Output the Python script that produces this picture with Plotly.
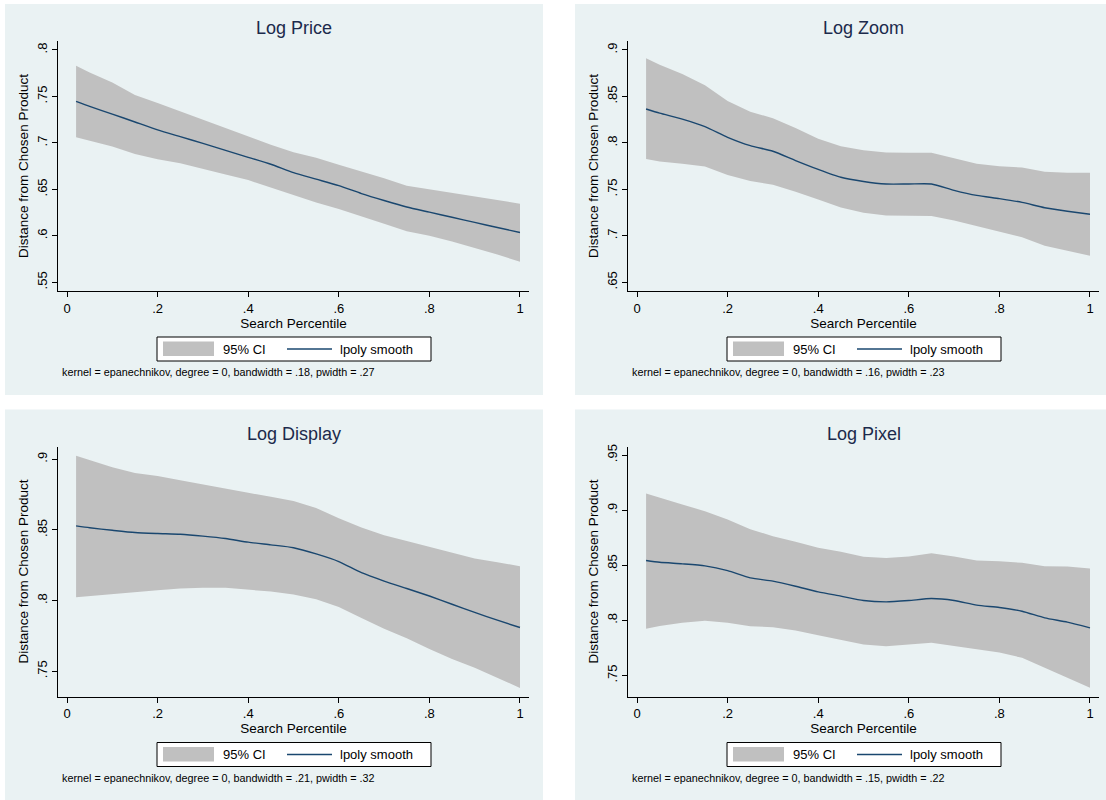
import plotly.graph_objects as go

# ---------------- data ----------------
x_grid = [0.02, 0.05, 0.10, 0.15, 0.20, 0.25, 0.30, 0.35, 0.40, 0.45, 0.50,
          0.55, 0.60, 0.65, 0.70, 0.75, 0.80, 0.85, 0.90, 0.95, 1.00]

price_fit = [.7446, .7393, .7310, .7225, .7140, .7067, .6995, .6920, .6845, .6770, .6680,
             .6610, .6540, .6455, .6380, .6310, .6255, .6200, .6145, .6090, .6036]
price_hi = [.7829, .7757, .7650, .7515, .7430, .7340, .7250, .7160, .7070, .6980, .6900,
            .6840, .6765, .6695, .6620, .6540, .6500, .6465, .6425, .6380, .6346]
price_lo = [.7061, .7021, .6960, .6880, .6825, .6780, .6720, .6660, .6600, .6520, .6440,
            .6360, .6290, .6210, .6130, .6050, .6000, .5940, .5870, .5800, .5721]

zoom_fit = [.8365, .8320, .8255, .8175, .8060, .7970, .7910, .7810, .7715, .7630, .7585,
            .7558, .7558, .7558, .7490, .7435, .7400, .7360, .7303, .7265, .7232]
zoom_hi = [.8910, .8840, .8740, .8620, .8450, .8335, .8265, .8160, .8045, .7965, .7920,
           .7898, .7895, .7895, .7835, .7775, .7750, .7735, .7690, .7680, .7679]
zoom_lo = [.7828, .7800, .7775, .7745, .7655, .7590, .7550, .7475, .7390, .7305, .7250,
           .7220, .7215, .7215, .7165, .7105, .7045, .6985, .6895, .6840, .6786]

display_fit = [.8528, .8515, .8497, .8481, .8474, .8469, .8456, .8439, .8413, .8394, .8374,
               .8330, .8276, .8197, .8138, .8085, .8032, .7974, .7916, .7861, .7809]
display_hi = [.9025, .8993, .8943, .8902, .8881, .8852, .8821, .8790, .8762, .8734, .8705,
              .8654, .8582, .8516, .8462, .8422, .8381, .8339, .8297, .8271, .8243]
display_lo = [.8024, .8033, .8046, .8060, .8072, .8085, .8090, .8090, .8078, .8064, .8043,
              .8010, .7954, .7876, .7800, .7734, .7657, .7587, .7524, .7453, .7382]

pixel_fit = [.8543, .8527, .8513, .8495, .8452, .8386, .8356, .8310, .8259, .8220, .8180,
             .8168, .8180, .8198, .8180, .8138, .8117, .8083, .8023, .7984, .7932]
pixel_hi = [.9152, .9112, .9051, .8991, .8915, .8827, .8764, .8713, .8658, .8622, .8577,
            .8567, .8580, .8610, .8580, .8543, .8537, .8522, .8492, .8489, .8471]
pixel_lo = [.7925, .7948, .7978, .7997, .7978, .7947, .7938, .7908, .7866, .7826, .7781,
            .7766, .7781, .7796, .7763, .7739, .7709, .7660, .7563, .7479, .7388]

titles = ["Log Price", "Log Zoom", "Log Display", "Log Pixel"]
notes = [
    "kernel = epanechnikov, degree = 0, bandwidth = .18, pwidth = .27",
    "kernel = epanechnikov, degree = 0, bandwidth = .16, pwidth = .23",
    "kernel = epanechnikov, degree = 0, bandwidth = .21, pwidth = .32",
    "kernel = epanechnikov, degree = 0, bandwidth = .15, pwidth = .22",
]
x_tickvals = [0, 0.2, 0.4, 0.6, 0.8, 1.0]
x_ticktext = ["0", ".2", ".4", ".6", ".8", "1"]
y_tickvals = [
    [.55, .60, .65, .70, .75, .80],
    [.65, .70, .75, .80, .85, .90],
    [.75, .80, .85, .90],
    [.75, .80, .85, .90, .95],
]
y_ticktext = [
    [".55", ".6", ".65", ".7", ".75", ".8"],
    [".65", ".7", ".75", ".8", ".85", ".9"],
    [".75", ".8", ".85", ".9"],
    [".75", ".8", ".85", ".9", ".95"],
]
y_ranges = [[.5407, .8096], [.6407, .9096], [.7321, .9090], [.7309, .9578]]
x_title = "Search Percentile"
y_title = "Distance from Chosen Product"
legend_labels = ["95% CI", "lpoly smooth"]

fits = [price_fit, zoom_fit, display_fit, pixel_fit]
his = [price_hi, zoom_hi, display_hi, pixel_hi]
los = [price_lo, zoom_lo, display_lo, pixel_lo]

# ---------------- styling ----------------
W, H = 1106, 800
PANEL_BG = "#eaf2f3"
BAND = "#c0c0c0"
NAVY = "#1a476f"
TITLE_C = "#1c2a4c"
FONT = "Liberation Sans, Arial, Helvetica, sans-serif"


def px(x):
    return x / W


def py(y):
    return 1 - y / H


# panel geometry (pixels): offsets of each panel
offsets = [(0, 0), (570, 0), (0, 405.5), (570, 405.5)]
PLOT_L, PLOT_R, PLOT_T, PLOT_B = 58, 529, 41, 291

fig = go.Figure()
shapes = []
annotations = []
layout_axes = {}

for i in range(4):
    s = "" if i == 0 else str(i + 1)
    dx, dy = offsets[i]
    xs = x_grid
    fig.add_trace(go.Scatter(
        x=xs + xs[::-1], y=his[i] + los[i][::-1],
        fill="toself", fillcolor=BAND, line=dict(width=0, color=BAND),
        mode="lines", showlegend=False, hoverinfo="skip",
        xaxis="x" + s, yaxis="y" + s, name=legend_labels[0]))
    fig.add_trace(go.Scatter(
        x=xs, y=fits[i], mode="lines",
        line=dict(color=NAVY, width=1.4, shape="spline", smoothing=0.6),
        showlegend=False, hoverinfo="skip",
        xaxis="x" + s, yaxis="y" + s, name=legend_labels[1]))

    layout_axes["xaxis" + s] = dict(
        domain=[px(PLOT_L + dx), px(PLOT_R + dx)], anchor="y" + s,
        range=[-0.0199, 1.0199], tickvals=x_tickvals, ticktext=x_ticktext,
        ticks="outside", ticklen=5, tickcolor="black", tickwidth=1,
        showline=True, linecolor="black", linewidth=1,
        showgrid=False, zeroline=False, automargin=False,
        tickfont=dict(size=13, color="black", family=FONT),
        title=dict(text=x_title, standoff=3,
                   font=dict(size=13.5, color="black", family=FONT)))
    layout_axes["yaxis" + s] = dict(
        domain=[py(PLOT_B + dy), py(PLOT_T + dy)], anchor="x" + s,
        range=y_ranges[i], tickvals=y_tickvals[i], ticktext=y_ticktext[i],
        tickangle=-90, ticks="outside", ticklen=5, tickcolor="black", tickwidth=1,
        showline=True, linecolor="black", linewidth=1,
        showgrid=True, gridcolor=PANEL_BG, gridwidth=1,
        zeroline=False, automargin=False,
        tickfont=dict(size=13, color="black", family=FONT),
        title=dict(text=y_title, standoff=3,
                   font=dict(size=13.5, color="black", family=FONT)))

    # panel background
    bg_left = 5 + dx
    bg_right = 543 + dx if dx == 0 else W
    bg_top = 4 + dy
    bg_bot = 395 + dy if dy == 0 else H
    shapes.append(dict(type="rect", xref="paper", yref="paper",
                       x0=px(bg_left), x1=px(bg_right), y0=py(bg_bot), y1=py(bg_top),
                       fillcolor=PANEL_BG, line=dict(width=0), layer="below"))

    # title
    annotations.append(dict(xref="paper", yref="paper",
                            x=px((PLOT_L + PLOT_R) / 2 + dx), y=py(28 + dy),
                            text=titles[i], showarrow=False,
                            xanchor="center", yanchor="middle",
                            font=dict(size=18, color=TITLE_C, family=FONT)))

    # legend box
    lg_l, lg_r, lg_t, lg_b = 157 + dx, 431 + dx, 337 + dy, 361 + dy
    shapes.append(dict(type="rect", xref="paper", yref="paper",
                       x0=px(lg_l), x1=px(lg_r), y0=py(lg_b), y1=py(lg_t),
                       fillcolor="white", line=dict(color="black", width=1), layer="above"))
    shapes.append(dict(type="rect", xref="paper", yref="paper",
                       x0=px(163 + dx), x1=px(214 + dx), y0=py(356 + dy), y1=py(341.5 + dy),
                       fillcolor=BAND, line=dict(width=0), layer="above"))
    shapes.append(dict(type="line", xref="paper", yref="paper",
                       x0=px(287 + dx), x1=px(332 + dx), y0=py(349 + dy), y1=py(349 + dy),
                       line=dict(color=NAVY, width=1.3), layer="above"))
    annotations.append(dict(xref="paper", yref="paper", x=px(221 + dx), y=py(349 + dy),
                            text=legend_labels[0], showarrow=False,
                            xanchor="left", yanchor="middle",
                            font=dict(size=13, color="black", family=FONT)))
    annotations.append(dict(xref="paper", yref="paper", x=px(338 + dx), y=py(349 + dy),
                            text=legend_labels[1], showarrow=False,
                            xanchor="left", yanchor="middle",
                            font=dict(size=13, color="black", family=FONT)))
    # note
    annotations.append(dict(xref="paper", yref="paper", x=px(60 + dx), y=py(372 + dy),
                            text=notes[i], showarrow=False,
                            xanchor="left", yanchor="middle",
                            font=dict(size=10.8, color="black", family=FONT)))

fig.update_layout(
    template="none",
    width=W, height=H, autosize=False,
    margin=dict(l=0, r=0, t=0, b=0, pad=0),
    paper_bgcolor="white", plot_bgcolor="white",
    font=dict(family=FONT, color="black"),
    showlegend=False, hovermode=False,
    shapes=shapes, annotations=annotations,
    **layout_axes,
)

fig.write_html("out.html")
